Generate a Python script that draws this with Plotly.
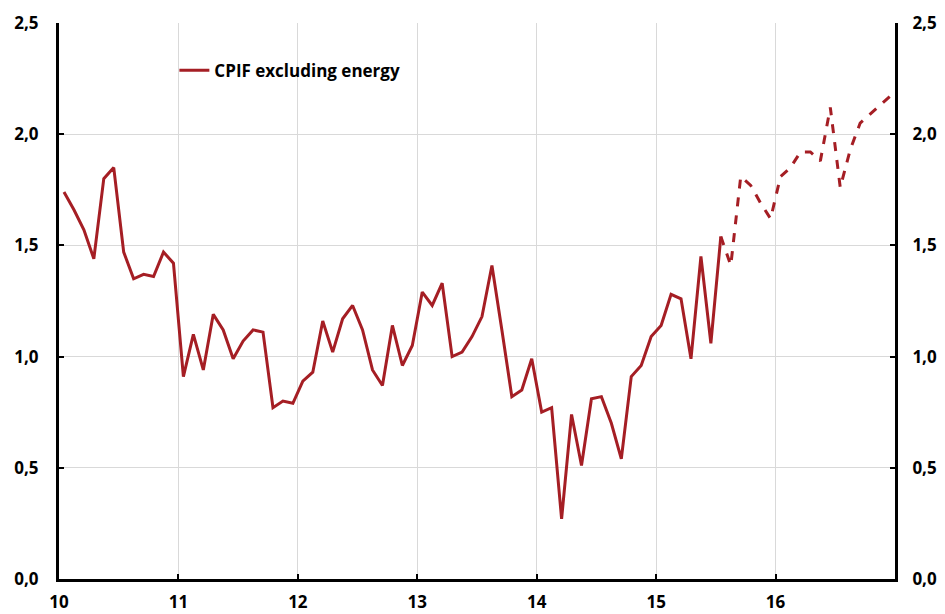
import plotly.graph_objects as go

# Monthly values Jan 2010 .. Dec 2016 (percent)
outcome = [1.74, 1.66, 1.57, 1.44, 1.80, 1.85, 1.47, 1.35, 1.37, 1.36, 1.47, 1.42,
           0.91, 1.10, 0.94, 1.19, 1.12, 0.99, 1.07, 1.12, 1.11, 0.77, 0.80, 0.79,
           0.89, 0.93, 1.16, 1.02, 1.17, 1.23, 1.12, 0.94, 0.87, 1.14, 0.96, 1.05,
           1.29, 1.23, 1.33, 1.00, 1.02, 1.09, 1.18, 1.41, 1.12, 0.82, 0.85, 0.99,
           0.75, 0.77, 0.27, 0.74, 0.51, 0.81, 0.82, 0.70, 0.54, 0.91, 0.96, 1.09,
           1.14, 1.28, 1.26, 0.99, 1.45, 1.06, 1.54]
forecast = [1.54, 1.41, 1.81, 1.77, 1.69, 1.62, 1.81, 1.85, 1.92, 1.92, 1.88, 2.12,
            1.76, 1.93, 2.05, 2.09, 2.13, 2.17]
year_ticks = [10, 11, 12, 13, 14, 15, 16]
year_labels = ["10", "11", "12", "13", "14", "15", "16"]
series_name = "CPIF excluding energy"

x_out = [10 + (i + 0.5) / 12 for i in range(len(outcome))]
start_f = len(outcome) - 1
x_fc = [10 + (start_f + i + 0.5) / 12 for i in range(len(forecast))]

RED = "#A51E24"
fig = go.Figure()
fig.add_trace(go.Scatter(x=x_fc, y=forecast, mode="lines", showlegend=False,
                         line=dict(color=RED, width=3, dash="dash")))
fig.add_trace(go.Scatter(x=x_out, y=outcome, mode="lines", name=series_name,
                         line=dict(color=RED, width=3)))
fig.add_trace(go.Scatter(x=x_out, y=outcome, yaxis="y2", mode="lines", showlegend=False,
                         hoverinfo="skip", line=dict(color="rgba(0,0,0,0)", width=0)))

tickfont = dict(family="Open Sans", size=17, color="black", weight="bold")
fig.update_layout(
    width=937, height=606,
    margin=dict(l=51, r=50, t=15, b=35),
    paper_bgcolor="white", plot_bgcolor="white",
    separators=", ",
    font=dict(family="Open Sans", color="black"),
    xaxis=dict(range=[10, 17], tickvals=year_ticks + [17], ticktext=year_labels + [""],
               showgrid=True, gridcolor="#d9d9d9", gridwidth=1,
               showline=True, linecolor="black", linewidth=3,
               ticks="inside", ticklen=5, tickwidth=2, tickcolor="black",
               tickfont=tickfont, zeroline=False, automargin=False,
               ticklabelstandoff=6),
    yaxis=dict(range=[0, 2.5], dtick=0.5, tickformat=".1f",
               showgrid=True, gridcolor="#d9d9d9", gridwidth=1,
               showline=True, linecolor="black", linewidth=3,
               ticks="inside", ticklen=5, tickwidth=2, tickcolor="black",
               tickfont=tickfont, zeroline=False, automargin=False,
               ticklabelstandoff=14),
    yaxis2=dict(range=[0, 2.5], dtick=0.5, tickformat=".1f", overlaying="y", side="right",
                showgrid=False, showline=True, linecolor="black", linewidth=3,
                ticks="inside", ticklen=5, tickwidth=2, tickcolor="black",
                tickfont=tickfont, zeroline=False, automargin=False,
                ticklabelstandoff=11),
    legend=dict(x=0.138, y=0.914, xanchor="left", yanchor="middle",
                bgcolor="rgba(0,0,0,0)",
                font=dict(family="Open Sans", size=17, color="black", weight="bold")),
)
fig.write_html("out.html")
